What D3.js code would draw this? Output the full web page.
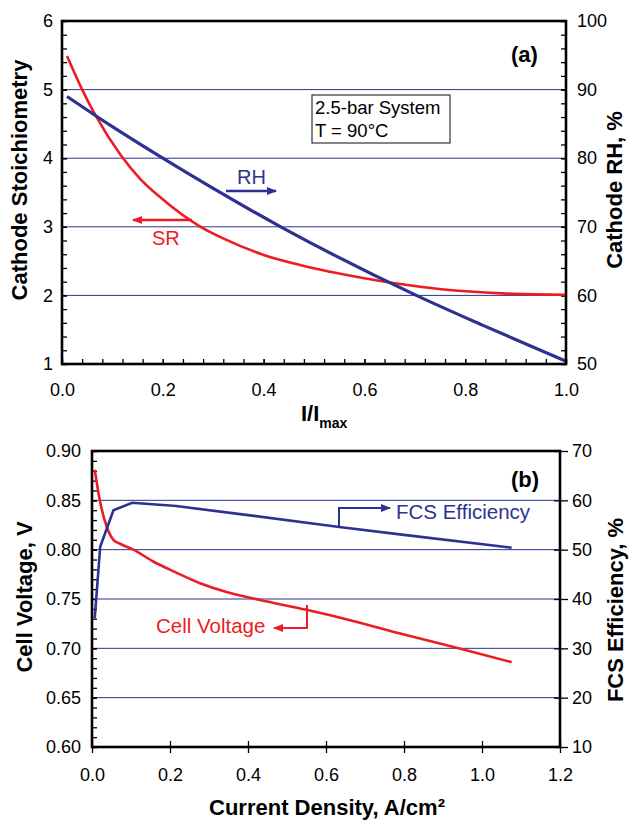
<!DOCTYPE html>
<html>
<head>
<meta charset="utf-8">
<script src="https://cdn.jsdelivr.net/npm/d3@7"></script>
<style>
  body { margin: 0; background: #fff; }
  svg { font-family: "Liberation Sans", Arial, sans-serif; }
</style>
</head>
<body>
<svg id="chart" width="629" height="820"></svg>
<script>
// ---- data, panel (a) ----
var srX = [0.01, 0.04, 0.066, 0.116, 0.155, 0.195, 0.275, 0.323, 0.4, 0.474, 0.6, 0.657, 0.753, 0.873, 1.0];
var srY = [5.49, 5.0, 4.63, 4.05, 3.70, 3.43, 3.0, 2.82, 2.59, 2.44, 2.25, 2.18, 2.09, 2.03, 2.01];
var rhX = [0.01, 0.1, 0.2, 0.434, 0.703, 0.833, 1.0];
var rhY = [89.0, 84.6, 80.0, 70.0, 60.0, 55.7, 50.4];
var aTicksX = [0, 0.2, 0.4, 0.6, 0.8, 1.0];
var aTicksL = [1, 2, 3, 4, 5, 6];
var aTicksR = [50, 60, 70, 80, 90, 100];
var aGrid = [2, 3, 4, 5];

// ---- data, panel (b) ----
var cvX = [0.007, 0.02, 0.038, 0.055, 0.072, 0.106, 0.157, 0.209, 0.277, 0.345, 0.431, 0.55, 0.687, 0.8, 0.94, 1.076];
var cvY = [0.881, 0.850, 0.823, 0.810, 0.806, 0.800, 0.788, 0.778, 0.766, 0.757, 0.749, 0.739, 0.726, 0.714, 0.700, 0.686];
var effX = [0.007, 0.021, 0.055, 0.103, 0.216, 0.4, 0.634, 0.8, 1.076];
var effY = [36.1, 50.6, 58.0, 59.5, 58.85, 57.0, 54.6, 53.0, 50.4];
var bTicksX = [0, 0.2, 0.4, 0.6, 0.8, 1.0, 1.2];
var bTicksL = [0.60, 0.65, 0.70, 0.75, 0.80, 0.85, 0.90];
var bTicksR = [10, 20, 30, 40, 50, 60, 70];
var bGrid = [0.65, 0.70, 0.75, 0.80, 0.85];

var red = "#ed1c24", navy = "#2e3192";

var svg = d3.select("#chart");

// arrow heads
var defs = svg.append("defs");
[["headRed", red], ["headNavy", navy]].forEach(function (m) {
  defs.append("marker")
    .attr("id", m[0])
    .attr("viewBox", "0 0 10 10")
    .attr("refX", 9).attr("refY", 5)
    .attr("markerUnits", "userSpaceOnUse")
    .attr("markerWidth", 10).attr("markerHeight", 10)
    .attr("orient", "auto")
    .append("path").attr("d", "M0,1 L10,5 L0,9 Z").attr("fill", m[1]);
});

function styleAxis(g) {
  g.select(".domain").remove();
  g.selectAll("line").attr("stroke", "#000").attr("stroke-width", 1.3);
  g.selectAll("text").attr("fill", "#000").style("font-size", "18px");
}

// ================= panel (a) =================
var x1 = d3.scaleLinear().domain([0, 1]).range([62, 566]);
var yL1 = d3.scaleLinear().domain([1, 6]).range([364, 21]);
var yR1 = d3.scaleLinear().domain([50, 100]).range([364, 21]);

var pa = svg.append("g");

pa.selectAll(".grid").data(aGrid).enter().append("line")
  .attr("x1", x1(0)).attr("x2", x1(1))
  .attr("y1", function (d) { return yL1(d); })
  .attr("y2", function (d) { return yL1(d); })
  .attr("stroke", navy).attr("stroke-width", 1);

// minor ticks
pa.append("g").attr("transform", "translate(0,364)")
  .call(d3.axisBottom(x1).tickValues(d3.range(26).map(function (i) { return i * 0.04; })).tickSize(-5).tickFormat(""))
  .call(styleAxis);
pa.append("g").attr("transform", "translate(62,0)")
  .call(d3.axisLeft(yL1).tickValues(d3.range(26).map(function (i) { return 1 + i * 0.2; })).tickSize(-5).tickFormat(""))
  .call(styleAxis);
pa.append("g").attr("transform", "translate(566,0)")
  .call(d3.axisRight(yR1).tickValues(d3.range(26).map(function (i) { return 50 + i * 2; })).tickSize(-5).tickFormat(""))
  .call(styleAxis);

// labelled axes
pa.append("g").attr("transform", "translate(0,364)")
  .call(d3.axisBottom(x1).tickValues(aTicksX).tickSize(-5).tickPadding(19).tickFormat(d3.format(".1f")))
  .call(styleAxis);
pa.append("g").attr("transform", "translate(62,0)")
  .call(d3.axisLeft(yL1).tickValues(aTicksL).tickSize(-5).tickPadding(9).tickFormat(d3.format("d")))
  .call(styleAxis);
pa.append("g").attr("transform", "translate(566,0)")
  .call(d3.axisRight(yR1).tickValues(aTicksR).tickSize(-5).tickPadding(11).tickFormat(d3.format("d")))
  .call(styleAxis);

pa.append("path")
  .datum(d3.zip(srX, srY))
  .attr("fill", "none").attr("stroke", red).attr("stroke-width", 2.6)
  .attr("d", d3.line().curve(d3.curveMonotoneX)
    .x(function (d) { return x1(d[0]); })
    .y(function (d) { return yL1(d[1]); }));

pa.append("path")
  .datum(d3.zip(rhX, rhY))
  .attr("fill", "none").attr("stroke", navy).attr("stroke-width", 3.2)
  .attr("d", d3.line().curve(d3.curveMonotoneX)
    .x(function (d) { return x1(d[0]); })
    .y(function (d) { return yR1(d[1]); }));

pa.append("rect")
  .attr("x", 62).attr("y", 21).attr("width", 504).attr("height", 343)
  .attr("fill", "none").attr("stroke", "#000").attr("stroke-width", 2.6);

pa.append("text").attr("x", 511).attr("y", 62)
  .style("font-size", "22px").style("font-weight", "bold").text("(a)");

pa.append("rect")
  .attr("x", 312).attr("y", 95).attr("width", 138).attr("height", 48)
  .attr("fill", "#fff").attr("stroke", "#333").attr("stroke-width", 1.2);
pa.append("text").attr("x", 315).attr("y", 114).style("font-size", "18.5px").text("2.5-bar System");
pa.append("text").attr("x", 315).attr("y", 137).style("font-size", "18.5px").text("T = 90°C");

pa.append("text").attr("x", 237).attr("y", 184).attr("fill", navy)
  .style("font-size", "20px").text("RH");
pa.append("line").attr("x1", 226).attr("x2", 276).attr("y1", 191).attr("y2", 191)
  .attr("stroke", navy).attr("stroke-width", 2.5).attr("marker-end", "url(#headNavy)");

pa.append("text").attr("x", 152).attr("y", 245).attr("fill", red)
  .style("font-size", "20px").text("SR");
pa.append("line").attr("x1", 192).attr("x2", 133).attr("y1", 220).attr("y2", 220)
  .attr("stroke", red).attr("stroke-width", 2.5).attr("marker-end", "url(#headRed)");

pa.append("text")
  .attr("transform", "translate(27,180) rotate(-90)")
  .attr("text-anchor", "middle")
  .style("font-size", "22px").style("font-weight", "bold")
  .text("Cathode Stoichiometry");
pa.append("text")
  .attr("transform", "translate(622,190) rotate(-90)")
  .attr("text-anchor", "middle")
  .style("font-size", "22px").style("font-weight", "bold")
  .text("Cathode RH, %");

var xl1 = pa.append("text").attr("x", 301).attr("y", 421)
  .style("font-size", "22px").style("font-weight", "bold");
xl1.append("tspan").text("I/I");
xl1.append("tspan").attr("dy", 7).style("font-size", "14px").text("max");

// ================= panel (b) =================
var x2 = d3.scaleLinear().domain([0, 1.2]).range([92, 560]);
var yL2 = d3.scaleLinear().domain([0.6, 0.9]).range([747, 451]);
var yR2 = d3.scaleLinear().domain([10, 70]).range([747, 451]);

var pb = svg.append("g");

pb.selectAll(".grid").data(bGrid).enter().append("line")
  .attr("x1", x2(0)).attr("x2", x2(1.2))
  .attr("y1", function (d) { return yL2(d); })
  .attr("y2", function (d) { return yL2(d); })
  .attr("stroke", navy).attr("stroke-width", 1);

pb.append("g").attr("transform", "translate(92,0)")
  .call(d3.axisLeft(yL2).tickValues(d3.range(31).map(function (i) { return 0.6 + i * 0.01; })).tickSize(-5).tickFormat(""))
  .call(styleAxis);
pb.append("g").attr("transform", "translate(92,0)")
  .call(d3.axisLeft(yL2).tickValues(bTicksL).tickSize(-5).tickPadding(11).tickFormat(d3.format(".2f")))
  .call(styleAxis);

pb.append("g").attr("transform", "translate(560,0)")
  .call(d3.axisRight(yR2).tickValues(bTicksR).tickSize(-6).tickFormat(""))
  .call(styleAxis);
pb.append("g").attr("transform", "translate(560,0)")
  .call(d3.axisRight(yR2).tickValues(bTicksR).tickSize(8).tickPadding(4).tickFormat(d3.format("d")))
  .call(styleAxis);

pb.append("g").attr("transform", "translate(0,747)")
  .call(d3.axisBottom(x2).tickValues(bTicksX).tickSize(-6).tickFormat(""))
  .call(styleAxis);
pb.append("g").attr("transform", "translate(0,747)")
  .call(d3.axisBottom(x2).tickValues(bTicksX).tickSize(6).tickPadding(15).tickFormat(d3.format(".1f")))
  .call(styleAxis);

pb.append("path")
  .datum(d3.zip(cvX, cvY))
  .attr("fill", "none").attr("stroke", red).attr("stroke-width", 2.6)
  .attr("d", d3.line().curve(d3.curveMonotoneX)
    .x(function (d) { return x2(d[0]); })
    .y(function (d) { return yL2(d[1]); }));

pb.append("path")
  .datum(d3.zip(effX, effY))
  .attr("fill", "none").attr("stroke", navy).attr("stroke-width", 2.6)
  .attr("d", d3.line()
    .x(function (d) { return x2(d[0]); })
    .y(function (d) { return yR2(d[1]); }));

pb.append("rect")
  .attr("x", 92).attr("y", 451).attr("width", 468).attr("height", 296)
  .attr("fill", "none").attr("stroke", "#000").attr("stroke-width", 2.6);

pb.append("text").attr("x", 511).attr("y", 487)
  .style("font-size", "22px").style("font-weight", "bold").text("(b)");

pb.append("text").attr("x", 396).attr("y", 519).attr("fill", navy)
  .style("font-size", "20.5px").text("FCS Efficiency");
pb.append("polyline").attr("points", "339,528 339,508 390,508")
  .attr("fill", "none").attr("stroke", navy).attr("stroke-width", 2)
  .attr("marker-end", "url(#headNavy)");

pb.append("text").attr("x", 156).attr("y", 633).attr("fill", red)
  .style("font-size", "20.5px").text("Cell Voltage");
pb.append("polyline").attr("points", "307,605 307,628 274,628")
  .attr("fill", "none").attr("stroke", red).attr("stroke-width", 2)
  .attr("marker-end", "url(#headRed)");

pb.append("text")
  .attr("transform", "translate(32,597) rotate(-90)")
  .attr("text-anchor", "middle")
  .style("font-size", "22px").style("font-weight", "bold")
  .text("Cell Voltage, V");
pb.append("text")
  .attr("transform", "translate(623,610) rotate(-90)")
  .attr("text-anchor", "middle")
  .style("font-size", "22px").style("font-weight", "bold")
  .text("FCS Efficiency, %");
pb.append("text").attr("x", 327).attr("y", 815)
  .attr("text-anchor", "middle")
  .style("font-size", "22px").style("font-weight", "bold")
  .text("Current Density, A/cm²");
</script>
</body>
</html>
